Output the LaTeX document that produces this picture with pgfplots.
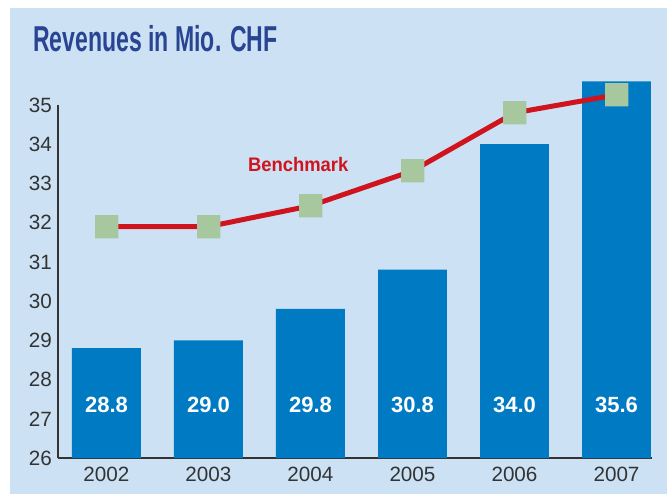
\documentclass[border=0pt]{standalone}
\usepackage{pgfplots}
\pgfplotsset{compat=1.18}
\usepackage{fontspec}
\setmainfont{Liberation Sans}
\definecolor{bg}{HTML}{CCE2F4}
\definecolor{barblue}{HTML}{007AC2}
\definecolor{linered}{HTML}{D0141E}
\definecolor{mk}{HTML}{A7C89E}
\definecolor{titleblue}{HTML}{2A4494}
\definecolor{tickc}{HTML}{333333}
\begin{document}
\begin{tikzpicture}
\fill[white] (0pt,0pt) rectangle (500.25pt,370.5pt);
\fill[bg] (7.5pt,0pt) rectangle (500.25pt,364.5pt);
\node[anchor=base west, inner sep=0pt, text=titleblue, font=\fontsize{27}{30}\selectfont\bfseries] at (24.75pt,331.5pt) {\scalebox{0.64}[1]{Revenues in Mio. CHF}};
\begin{axis}[
  at={(43.5pt,27pt)}, anchor=south west,
  scale only axis, width=445.5pt, height=264.75pt,
  xmin=-0.475, xmax=5.348, ymin=26, ymax=35,
  axis x line*=bottom, axis y line*=left,
  axis line style={draw=tickc, line width=1.1pt, -},
  ytick={26,27,...,35}, xtick={0,...,5},
  xticklabels={2002,2003,2004,2005,2006,2007},
  major tick length=0pt,
  tick label style={font=\fontsize{15.5}{18}\selectfont, text=tickc},
  yticklabel style={xshift=-1pt},
  xticklabel style={yshift=-3pt},
  /pgf/number format/assume math mode=true,
  clip=false,
]
\addplot[ybar, fill=barblue, draw=none, bar width=0.676] coordinates {(0,28.8) (1,29.0) (2,29.8) (3,30.8) (4,34.0) (5,35.6)};
\addplot[linered, line width=3.75pt, mark=square*, mark size=8.6pt, mark options={solid, fill=mk, draw=mk, line width=0.01pt}] coordinates {(0,31.9) (1,31.9) (2,32.43) (3,33.32) (4,34.8) (5,35.26)};
\foreach \i/\v in {0/28.8,1/29.0,2/29.8,3/30.8,4/34.0,5/35.6}{
  \edef\tmp{\noexpand\node[text=white, font=\noexpand\fontsize{16.5}{18}\noexpand\selectfont\noexpand\bfseries] at (axis cs:\i,27.35) {\v};}
  \tmp
}
\node[text=linered, font=\fontsize{14.7}{16}\selectfont\bfseries] at (axis cs:1.88,33.48) {\scalebox{0.94}[1]{Benchmark}};
\end{axis}
\end{tikzpicture}
\end{document}
